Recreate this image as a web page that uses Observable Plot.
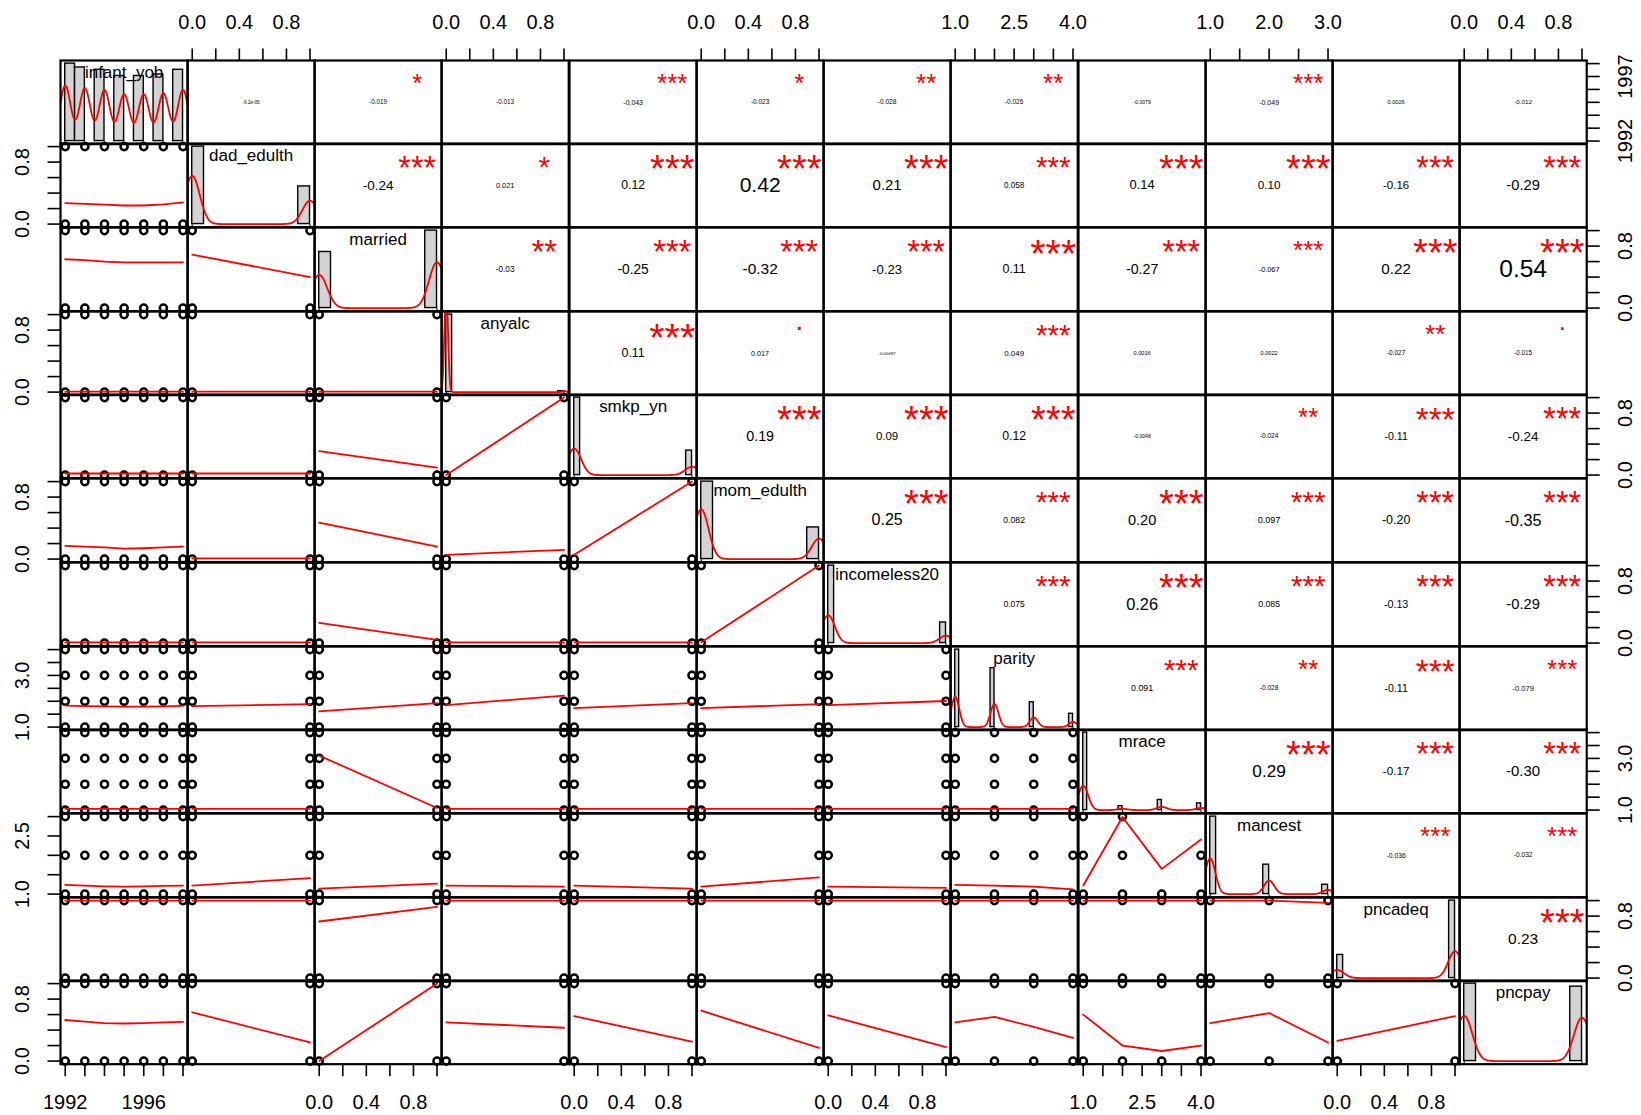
<!DOCTYPE html>
<html>
<head>
<meta charset="utf-8">
<script src="https://cdn.jsdelivr.net/npm/d3@7"></script>
<script src="https://cdn.jsdelivr.net/npm/@observablehq/plot@0.6"></script>
<style>
  html, body { margin: 0; padding: 0; background: #ffffff; }
  #chart { position: relative; width: 1641px; height: 1115px; overflow: hidden; background: #ffffff; }
  #chart svg { position: absolute; overflow: visible; }
</style>
</head>
<body>
<div id="chart"></div>
<script>
// ---------------- DATA ----------------
const varNames = ["infant_yob","dad_edulth","married","anyalc","smkp_yn","mom_edulth","incomeless20","parity","mrace","mancest","pncadeq","pncpay"];

// observed levels of each variable
const lv_infant_yob = [1992,1993,1994,1995,1996,1997,1998];
const lv_binary = [0,1];
const lv_parity = [1,2,3,4];
const lv_mrace = [1,2,3,4];
const lv_mancest = [1,2,3];

// relative frequency of each level
const sh_infant_yob = [1.0,0.95,0.92,0.84,0.84,0.86,0.92];
const sh_dad_edulth = [0.673,0.327];
const sh_married = [0.42,0.58];
const sh_anyalc = [0.988,0.012];
const sh_smkp_yn = [0.76,0.24];
const sh_mom_edulth = [0.71,0.29];
const sh_incomeless20 = [0.79,0.21];
const sh_parity = [0.444,0.338,0.142,0.076];
const sh_mrace = [0.79,0.04,0.103,0.068];
const sh_mancest = [0.667,0.253,0.08];
const sh_pncadeq = [0.23,0.77];
const sh_pncpay = [0.51,0.49];

// histogram bin widths (R "FD" breaks)
const binWidths = [0.5,0.1,0.1,0.05,0.05,0.1,0.05,0.1,0.1,0.1,0.05,0.1];
const nObs = 12400;

// lowess lines of the lower panels: one list per row, one entry per column (values at column levels)
const fit_dad_edulth = [[0.27,0.26,0.25,0.24,0.24,0.255,0.28]];
const fit_married = [[0.63,0.62,0.60,0.59,0.59,0.59,0.59],[0.69,0.40]];
const fit_anyalc = [[0.005,0.005,0.005,0.005,0.005,0.005,0.005],[0.005,0.005],[0.005,0.005]];
const fit_smkp_yn = [[0.02,0.02,0.02,0.02,0.02,0.02,0.02],[0.02,0.02],[0.31,0.095],[0.0,1.0]];
const fit_mom_edulth = [[0.17,0.16,0.15,0.135,0.14,0.15,0.16],[0.01,0.01],[0.47,0.16],[0.055,0.12],[0.055,1.0]];
const fit_incomeless20 = [[0.01,0.01,0.01,0.01,0.01,0.01,0.01],[0.01,0.01],[0.26,0.04],[0.01,0.01],[0.01,0.01],[0.01,1.0]];
const fit_parity = [[1.83,1.81,1.80,1.79,1.79,1.80,1.82],[1.81,1.89],[1.61,1.93],[1.85,2.22],[1.73,1.93],[1.73,1.89],[1.85,2.01]];
const fit_mrace = [[1.05,1.05,1.05,1.05,1.05,1.05,1.05],[1.05,1.05],[3.11,1.08],[1.05,1.05],[1.05,1.05],[1.05,1.05],[1.05,1.05],[1.05,1.05,1.05,1.05]];
const fit_mancest = [[1.24,1.22,1.20,1.19,1.20,1.21,1.22],[1.22,1.41],[1.14,1.27],[1.22,1.19],[1.22,1.14],[1.19,1.43],[1.19,1.16],[1.24,1.22,1.19,1.12],[1.22,2.99,1.65,2.41]];
const fit_pncadeq = [[1.0,1.0,1.0,1.0,1.0,1.0,1.0],[1.0,1.0],[0.73,0.92],[1.0,1.0],[1.0,1.0],[1.0,1.0],[1.0,1.0],[1.0,1.0,1.0,1.0],[1.0,1.0,1.0,1.0],[1.0,1.0,0.97]];
const fit_pncpay = [[0.53,0.51,0.49,0.485,0.49,0.50,0.505],[0.63,0.24],[0.0,1.0],[0.50,0.43],[0.58,0.25],[0.65,0.17],[0.59,0.18],[0.50,0.57,0.44,0.30],[0.60,0.20,0.13,0.20],[0.49,0.62,0.24],[0.26,0.58]];

// combinations absent from the scatter: [row var, column var, x level, y level]
const absentPoints = [[9,8,3,2],[9,8,3,3],[9,8,4,3]];

// correlations (upper panels), one list per row
const corr_infant_yob = ["-9.2e-05","-0.019","-0.013","-0.043","-0.023","-0.028","-0.026","-0.0079","-0.049","0.0026","-0.012"];
const stars_infant_yob = ["","*","","***","*","**","**","","***","",""];
const corr_dad_edulth = ["-0.24","0.021","0.12","0.42","0.21","0.058","0.14","0.10","-0.16","-0.29"];
const stars_dad_edulth = ["***","*","***","***","***","***","***","***","***","***"];
const corr_married = ["-0.03","-0.25","-0.32","-0.23","0.11","-0.27","-0.067","0.22","0.54"];
const stars_married = ["**","***","***","***","***","***","***","***","***"];
const corr_anyalc = ["0.11","0.017","-0.00097","0.049","0.0016","0.0022","-0.027","-0.015"];
const stars_anyalc = ["***",".","","***","","","**","."];
const corr_smkp_yn = ["0.19","0.09","0.12","-0.0048","-0.024","-0.11","-0.24"];
const stars_smkp_yn = ["***","***","***","","**","***","***"];
const corr_mom_edulth = ["0.25","0.082","0.20","0.097","-0.20","-0.35"];
const stars_mom_edulth = ["***","***","***","***","***","***"];
const corr_incomeless20 = ["0.075","0.26","0.085","-0.13","-0.29"];
const stars_incomeless20 = ["***","***","***","***","***"];
const corr_parity = ["0.091","-0.028","-0.11","-0.079"];
const stars_parity = ["***","**","***","***"];
const corr_mrace = ["0.29","-0.17","-0.30"];
const stars_mrace = ["***","***","***"];
const corr_mancest = ["-0.036","-0.032"];
const stars_mancest = ["***","***"];
const corr_pncadeq = ["0.23"];
const stars_pncadeq = ["***"];

// axis ticks and the labels R printed
const ticksYear = [1992,1993,1994,1995,1996,1997,1998];
const ticksUnit = [0,0.2,0.4,0.6,0.8,1.0];
const ticksFour = [1,1.5,2,2.5,3,3.5,4];
const ticksThree = [1,1.5,2,2.5,3];
const labelsYearH = [1992,1996], labelsYearV = [1992,1997];
const labelsUnitH = [0,0.4,0.8], labelsUnitV = [0,0.8];
const labelsFourH = [1,2.5,4], labelsFourV = [1,3];
const labelsThreeH = [1,2,3], labelsThreeV = [1,2.5];

// ---------------- DRAWING ----------------
const FONT = '"Liberation Sans", Arial, Helvetica, sans-serif';
const chart = document.getElementById("chart");
const L0 = 59.7, T0 = 59.7, CW = 127.24, CH = 83.69;
const F0 = 74;
const nVar = varNames.length;

const levelsList = [lv_infant_yob, lv_binary, lv_binary, lv_binary, lv_binary, lv_binary, lv_binary, lv_parity, lv_mrace, lv_mancest, lv_binary, lv_binary];
const sharesList = [sh_infant_yob, sh_dad_edulth, sh_married, sh_anyalc, sh_smkp_yn, sh_mom_edulth, sh_incomeless20, sh_parity, sh_mrace, sh_mancest, sh_pncadeq, sh_pncpay];
const fitList = [null, fit_dad_edulth, fit_married, fit_anyalc, fit_smkp_yn, fit_mom_edulth, fit_incomeless20, fit_parity, fit_mrace, fit_mancest, fit_pncadeq, fit_pncpay];
const corrList = [corr_infant_yob, corr_dad_edulth, corr_married, corr_anyalc, corr_smkp_yn, corr_mom_edulth, corr_incomeless20, corr_parity, corr_mrace, corr_mancest, corr_pncadeq];
const starsList = [stars_infant_yob, stars_dad_edulth, stars_married, stars_anyalc, stars_smkp_yn, stars_mom_edulth, stars_incomeless20, stars_parity, stars_mrace, stars_mancest, stars_pncadeq];
const tickSets = [ticksYear, ticksUnit, ticksUnit, ticksUnit, ticksUnit, ticksUnit, ticksUnit, ticksFour, ticksFour, ticksThree, ticksUnit, ticksUnit];
const hLabelSets = [labelsYearH, labelsUnitH, labelsUnitH, labelsUnitH, labelsUnitH, labelsUnitH, labelsUnitH, labelsFourH, labelsFourH, labelsThreeH, labelsUnitH, labelsUnitH];
const vLabelSets = [labelsYearV, labelsUnitV, labelsUnitV, labelsUnitV, labelsUnitV, labelsUnitV, labelsUnitV, labelsFourV, labelsFourV, labelsThreeV, labelsUnitV, labelsUnitV];

function domainOf(lv) { const a = d3.min(lv), b = d3.max(lv), r = b - a; return [a - 0.04 * r, b + 0.04 * r]; }
const domains = levelsList.map(domainOf);
const fmt = (k) => (k === 0 ? (d => String(d)) : (d => d.toFixed(1)));

const canvas = document.createElement("canvas");
const ctx = canvas.getContext("2d");
ctx.font = '100px "Liberation Sans", Arial';
const textEm = (t) => ctx.measureText(t).width / 100;

function diagMarks(k) {
  const lv = levelsList[k], sh = sharesList[k], bwid = binWidths[k];
  const tot = d3.sum(sh);
  const p = sh.map(s => s / tot);
  const mean = d3.sum(lv, (v, q) => v * p[q]);
  const sd = Math.sqrt(d3.sum(lv, (v, q) => p[q] * (v - mean) ** 2));
  const quant = (a) => { let c = 0; for (let q = 0; q < lv.length; q++) { c += p[q]; if (c >= a) return lv[q]; } return lv[lv.length - 1]; };
  const iqr = quant(0.75) - quant(0.25);
  let lo = Math.min(sd, iqr / 1.34); if (!lo) lo = sd;
  const bw = 0.9 * lo * Math.pow(nObs, -0.2);
  const maxBar = d3.max(p) / bwid;
  const bars = lv.map((v, q) => ({x1: q === 0 ? v : v - bwid, x2: q === 0 ? v + bwid : v, h: p[q] / bwid / maxBar}));
  const [a, b] = domains[k];
  const dens = d3.range(0, 601).map(t => {
    const x = a + (b - a) * t / 600;
    const f = d3.sum(lv, (v, q) => p[q] * Math.exp(-0.5 * ((x - v) / bw) ** 2)) / (bw * Math.sqrt(2 * Math.PI));
    return {x, y: f / maxBar};
  });
  return [
    Plot.rect(bars, {x1: "x1", x2: "x2", y1: () => 0, y2: "h", fill: "#d3d3d3", stroke: "black", strokeWidth: 1.4}),
    Plot.line(dens, {x: "x", y: "y", stroke: "#ff0000", strokeWidth: 1.8, clip: true}),
    Plot.ruleX(lv, {x: d => d, y1: () => -0.04, y2: () => -0.0076, stroke: "black", strokeWidth: 1}),
    Plot.text([varNames[k]], {text: d => d, frameAnchor: "top", lineAnchor: "middle", textAnchor: "middle", dy: 12, fontSize: 17, fill: "black"})
  ];
}

function lowerMarks(i, j) {
  const xs = levelsList[j], ys = levelsList[i];
  const pts = [];
  for (const x of xs) for (const y of ys) {
    if (!absentPoints.some(a => a[0] === i && a[1] === j && a[2] === x && a[3] === y)) pts.push({x, y});
  }
  const fit = fitList[i][j];
  const line = xs.map((x, q) => ({x, y: fit[q]}));
  return [
    Plot.dot(pts, {x: "x", y: "y", r: 3.6, stroke: "black", strokeWidth: 2.5, fill: "none"}),
    Plot.line(line, {x: "x", y: "y", stroke: "#ff0000", strokeWidth: 1.8})
  ];
}

function upperMarks(i, j) {
  const txt = corrList[i][j - i - 1], sig = starsList[i][j - i - 1];
  const starFs = F0 / textEm(txt);
  const rFs = starFs * (Math.abs(Number(txt)) + 0.3) / 1.3;
  const marks = [Plot.text([txt], {text: d => d, frameAnchor: "middle", lineAnchor: "middle", textAnchor: "middle", fontSize: rFs, fill: "black"})];
  if (sig) {
    const off = (sig === "." ? -0.27 : 0.26) * starFs;
    marks.push(Plot.text([sig], {text: d => d, frameAnchor: "middle", lineAnchor: "middle", textAnchor: "middle", dx: 0.3 * CW + 1, dy: -0.3 * CH + off, fontSize: starFs, fill: "#ff0000"}));
  }
  return marks;
}

function hAxis(k, anchor) {
  return [
    Plot.axisX({anchor, ticks: tickSets[k], tickSize: 12.5, tickFormat: () => "", strokeWidth: 1.6, label: null}),
    Plot.text(hLabelSets[k], {x: d => d, text: fmt(k), frameAnchor: anchor, dy: anchor === "top" ? -32 : 31, textAnchor: "middle",
      lineAnchor: anchor === "top" ? "bottom" : "top", fontSize: 20, fill: "black"})
  ];
}
function vAxis(k, anchor) {
  return [
    Plot.axisY({anchor, ticks: tickSets[k], tickSize: 12.5, tickFormat: () => "", strokeWidth: 1.6, label: null}),
    Plot.text(vLabelSets[k], {y: d => d, text: fmt(k), frameAnchor: anchor, dx: anchor === "left" ? -32 : 31, rotate: -90, textAnchor: "middle",
      lineAnchor: anchor === "left" ? "bottom" : "top", fontSize: 20, fill: "black"})
  ];
}

for (let i = 0; i < nVar; i++) {
  for (let j = 0; j < nVar; j++) {
    let marks;
    const xd = domains[j];
    const yd = i === j ? [-0.04, 1.04] : domains[i];
    if (i === j) marks = diagMarks(i);
    else if (i > j) marks = lowerMarks(i, j);
    else marks = upperMarks(i, j);
    marks.push(Plot.frame({stroke: "black", strokeWidth: 2.2}));
    if (i === 0 && j % 2 === 1) marks.push(...hAxis(j, "top"));
    if (i === nVar - 1 && j % 2 === 0) marks.push(...hAxis(j, "bottom"));
    if (j === 0 && i % 2 === 1) marks.push(...vAxis(i, "left"));
    if (j === nVar - 1 && i % 2 === 0) marks.push(...vAxis(i, "right"));
    const svg = Plot.plot({
      width: CW, height: CH, margin: 0,
      x: {domain: xd, axis: null},
      y: {domain: yd, axis: null},
      style: {background: "transparent", overflow: "visible", fontFamily: FONT},
      marks
    });
    svg.style.position = "absolute";
    svg.style.left = (L0 + j * CW) + "px";
    svg.style.top = (T0 + i * CH) + "px";
    chart.appendChild(svg);
  }
}
</script>
</body>
</html>
